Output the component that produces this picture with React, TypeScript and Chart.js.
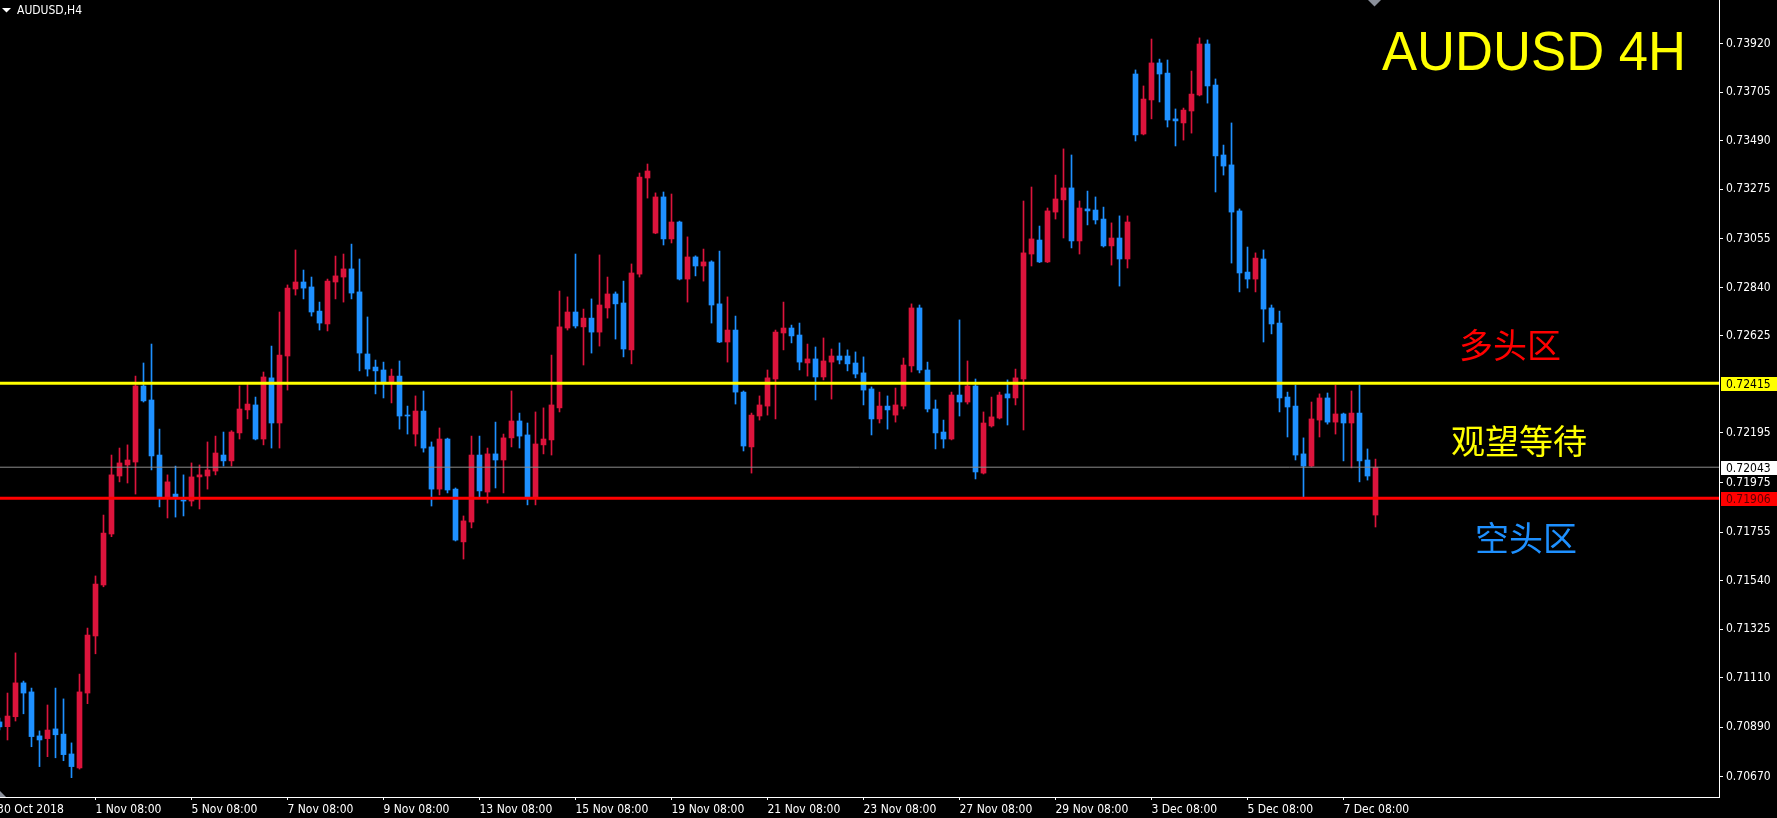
import React, { useEffect, useRef } from 'react';
import { Chart, registerables } from 'chart.js';

Chart.register(...registerables);

// ---- data (AUDUSD H4, bar index -1 .. 171) ----
const firstBar = -1;
const opens = [
  0.70914, 0.70893, 0.70937, 0.71087, 0.71047, 0.70852, 0.70840, 0.70883, 0.70860, 0.70772,
  0.70710, 0.71042, 0.71295, 0.71521, 0.71747, 0.72004, 0.72053, 0.72066, 0.72403, 0.72341,
  0.72097, 0.71907, 0.71924, 0.71898, 0.71893, 0.72000, 0.72004, 0.72026, 0.72097, 0.72071,
  0.72195, 0.72297, 0.72319, 0.72168, 0.72439, 0.72239, 0.72536, 0.72833, 0.72864, 0.72842,
  0.72735, 0.72678, 0.72864, 0.72886, 0.72922, 0.72820, 0.72545, 0.72487, 0.72474, 0.72421,
  0.72447, 0.72274, 0.72190, 0.72292, 0.72133, 0.71946, 0.72168, 0.71946, 0.71712, 0.71800,
  0.72097, 0.71933, 0.72102, 0.72075, 0.72173, 0.72248, 0.72186, 0.71911, 0.72142, 0.72164,
  0.72306, 0.72660, 0.72731, 0.72665, 0.72704, 0.72642, 0.72749, 0.72811, 0.72771, 0.72563,
  0.72899, 0.73325, 0.73081, 0.73241, 0.73055, 0.73130, 0.72877, 0.72975, 0.72935, 0.72953,
  0.72767, 0.72598, 0.72651, 0.72376, 0.72133, 0.72270, 0.72314, 0.72434, 0.72638, 0.72660,
  0.72629, 0.72505, 0.72523, 0.72443, 0.72509, 0.72536, 0.72536, 0.72505, 0.72461, 0.72390,
  0.72257, 0.72314, 0.72274, 0.72314, 0.72492, 0.72749, 0.72474, 0.72301, 0.72199, 0.72168,
  0.72363, 0.72332, 0.72403, 0.72017, 0.72226, 0.72261, 0.72368, 0.72350, 0.72434, 0.72988,
  0.73050, 0.72953, 0.73174, 0.73228, 0.73281, 0.73046, 0.73188, 0.73183, 0.73143, 0.73024,
  0.73059, 0.72966, 0.73786, 0.73520, 0.73671, 0.73835, 0.73790, 0.73587, 0.73569, 0.73622,
  0.73693, 0.73919, 0.73737, 0.73427, 0.73383, 0.73179, 0.72908, 0.72877, 0.72966, 0.72749,
  0.72682, 0.72354, 0.72314, 0.72102, 0.72048, 0.72252, 0.72350, 0.72243, 0.72279, 0.72239,
  0.72283, 0.72075, 0.71831,
];
const highs = [
  0.70931, 0.71042, 0.71220, 0.71095, 0.71064, 0.70874, 0.70989, 0.71064, 0.71016, 0.70821,
  0.71126, 0.71330, 0.71561, 0.71831, 0.72097, 0.72128, 0.72142, 0.72447, 0.72505, 0.72589,
  0.72212, 0.72009, 0.72048, 0.72009, 0.72062, 0.72053, 0.72155, 0.72181, 0.72199, 0.72205,
  0.72403, 0.72412, 0.72354, 0.72465, 0.72580, 0.72731, 0.72851, 0.73006, 0.72917, 0.72886,
  0.72775, 0.72877, 0.72979, 0.72988, 0.73032, 0.72966, 0.72709, 0.72518, 0.72509, 0.72478,
  0.72514, 0.72314, 0.72359, 0.72381, 0.72155, 0.72217, 0.72172, 0.71951, 0.71827, 0.72181,
  0.72181, 0.72128, 0.72243, 0.72190, 0.72381, 0.72283, 0.72239, 0.72288, 0.72306, 0.72540,
  0.72824, 0.72798, 0.72988, 0.72744, 0.72789, 0.72984, 0.72886, 0.72820, 0.72868, 0.72944,
  0.73347, 0.73387, 0.73259, 0.73263, 0.73254, 0.73134, 0.73064, 0.72980, 0.73010, 0.72958,
  0.73001, 0.72798, 0.72713, 0.72381, 0.72283, 0.72359, 0.72474, 0.72651, 0.72775, 0.72673,
  0.72682, 0.72589, 0.72576, 0.72616, 0.72567, 0.72594, 0.72563, 0.72554, 0.72532, 0.72399,
  0.72376, 0.72359, 0.72394, 0.72527, 0.72767, 0.72762, 0.72509, 0.72341, 0.72252, 0.72376,
  0.72696, 0.72514, 0.72434, 0.72288, 0.72354, 0.72376, 0.72430, 0.72478, 0.73223, 0.73285,
  0.73112, 0.73192, 0.73338, 0.73454, 0.73427, 0.73223, 0.73267, 0.73241, 0.73196, 0.73126,
  0.73157, 0.73157, 0.73804, 0.73733, 0.73941, 0.73852, 0.73848, 0.73631, 0.73635, 0.73799,
  0.73946, 0.73937, 0.73764, 0.73471, 0.73569, 0.73188, 0.73019, 0.72993, 0.73006, 0.72762,
  0.72735, 0.72376, 0.72407, 0.72173, 0.72332, 0.72368, 0.72372, 0.72407, 0.72283, 0.72381,
  0.72407, 0.72124, 0.72079,
];
const lows = [
  0.70878, 0.70834, 0.70918, 0.70950, 0.70804, 0.70716, 0.70760, 0.70755, 0.70742, 0.70667,
  0.70705, 0.70995, 0.71216, 0.71513, 0.71735, 0.71978, 0.71973, 0.71924, 0.72332, 0.72031,
  0.71867, 0.71818, 0.71822, 0.71827, 0.71871, 0.71858, 0.71946, 0.72009, 0.72048, 0.72048,
  0.72168, 0.72257, 0.72164, 0.72142, 0.72128, 0.72128, 0.72385, 0.72806, 0.72789, 0.72713,
  0.72651, 0.72647, 0.72789, 0.72775, 0.72789, 0.72470, 0.72447, 0.72368, 0.72350, 0.72328,
  0.72212, 0.72190, 0.72137, 0.72110, 0.71871, 0.71920, 0.71929, 0.71716, 0.71636, 0.71774,
  0.71911, 0.71884, 0.71951, 0.71929, 0.72133, 0.72128, 0.71876, 0.71876, 0.72102, 0.72097,
  0.72288, 0.72651, 0.72660, 0.72496, 0.72549, 0.72580, 0.72704, 0.72611, 0.72532, 0.72501,
  0.72886, 0.73236, 0.73078, 0.73028, 0.73037, 0.72873, 0.72775, 0.72891, 0.72868, 0.72682,
  0.72595, 0.72509, 0.72323, 0.72115, 0.72017, 0.72252, 0.72274, 0.72257, 0.72563, 0.72594,
  0.72474, 0.72447, 0.72341, 0.72430, 0.72345, 0.72501, 0.72470, 0.72439, 0.72319, 0.72186,
  0.72239, 0.72212, 0.72243, 0.72301, 0.72465, 0.72461, 0.72288, 0.72124, 0.72128, 0.72164,
  0.72270, 0.72323, 0.71991, 0.72013, 0.72221, 0.72257, 0.72230, 0.72319, 0.72208, 0.72935,
  0.72950, 0.72950, 0.73143, 0.73059, 0.73015, 0.72988, 0.73117, 0.73121, 0.73019, 0.72939,
  0.72846, 0.72926, 0.73489, 0.73516, 0.73587, 0.73662, 0.73551, 0.73467, 0.73493, 0.73524,
  0.73689, 0.73657, 0.73263, 0.73338, 0.72948, 0.72820, 0.72837, 0.72820, 0.72598, 0.72634,
  0.72288, 0.72177, 0.72075, 0.71911, 0.72044, 0.72177, 0.72234, 0.72190, 0.72071, 0.72040,
  0.71978, 0.71986, 0.71778,
];
const closes = [
  0.70892, 0.70940, 0.71087, 0.71042, 0.70849, 0.70834, 0.70878, 0.70857, 0.70769, 0.70716,
  0.71047, 0.71299, 0.71525, 0.71751, 0.72009, 0.72062, 0.72075, 0.72403, 0.72337, 0.72093,
  0.71907, 0.71978, 0.71911, 0.71893, 0.72000, 0.72009, 0.72031, 0.72106, 0.72071, 0.72199,
  0.72301, 0.72323, 0.72168, 0.72443, 0.72239, 0.72540, 0.72837, 0.72864, 0.72837, 0.72731,
  0.72682, 0.72868, 0.72891, 0.72922, 0.72815, 0.72549, 0.72478, 0.72470, 0.72421, 0.72447,
  0.72270, 0.72270, 0.72292, 0.72128, 0.71946, 0.72168, 0.71942, 0.71720, 0.71805, 0.72097,
  0.71938, 0.72102, 0.72075, 0.72173, 0.72248, 0.72181, 0.71911, 0.72146, 0.72168, 0.72319,
  0.72665, 0.72731, 0.72669, 0.72704, 0.72642, 0.72762, 0.72811, 0.72767, 0.72567, 0.72904,
  0.73329, 0.73356, 0.73241, 0.73055, 0.73130, 0.72877, 0.72975, 0.72935, 0.72953, 0.72762,
  0.72598, 0.72651, 0.72376, 0.72137, 0.72274, 0.72319, 0.72439, 0.72642, 0.72660, 0.72625,
  0.72509, 0.72523, 0.72443, 0.72514, 0.72536, 0.72518, 0.72501, 0.72456, 0.72385, 0.72257,
  0.72314, 0.72297, 0.72319, 0.72496, 0.72749, 0.72474, 0.72301, 0.72195, 0.72168, 0.72363,
  0.72332, 0.72403, 0.72022, 0.72239, 0.72266, 0.72363, 0.72350, 0.72439, 0.72993, 0.73055,
  0.72953, 0.73179, 0.73232, 0.73281, 0.73046, 0.73192, 0.73179, 0.73139, 0.73024, 0.73059,
  0.72966, 0.73130, 0.73516, 0.73675, 0.73835, 0.73786, 0.73582, 0.73578, 0.73626, 0.73697,
  0.73919, 0.73733, 0.73423, 0.73378, 0.73174, 0.72904, 0.72877, 0.72970, 0.72744, 0.72678,
  0.72350, 0.72310, 0.72097, 0.72048, 0.72257, 0.72350, 0.72243, 0.72279, 0.72239, 0.72283,
  0.72071, 0.72004, 0.72043,
];

const dateLabels = [
  '30 Oct 2018', '1 Nov 08:00', '5 Nov 08:00', '7 Nov 08:00', '9 Nov 08:00', '13 Nov 08:00',
  '15 Nov 08:00', '19 Nov 08:00', '21 Nov 08:00', '23 Nov 08:00', '27 Nov 08:00',
  '29 Nov 08:00', '3 Dec 08:00', '5 Dec 08:00', '7 Dec 08:00',
];
const dateLabelBars = [-1.3, 11, 23, 35, 47, 59, 71, 83, 95, 107, 119, 131, 143, 155, 167];

const priceTicks = [
  0.7392, 0.73705, 0.7349, 0.73275, 0.73055, 0.7284, 0.72625, 0.72195, 0.71975,
  0.71755, 0.7154, 0.71325, 0.7111, 0.7089, 0.7067,
];

const levelValues = [0.72415, 0.72043, 0.71906];
const levelLineColors = ['#FFFF00', '#8C8C8C', '#FF0000'];
const levelLineWidths = [3, 1, 3];
const levelBoxColors = ['#FFFF00', '#FFFFFF', '#FF0000'];
const levelTextColors = ['#000000', '#000000', '#5A0000'];

const zoneLabels = ['多头区', '观望等待', '空头区'];
const zoneColors = ['#FF0000', '#FFFF00', '#1E90FF'];

const symbolTitle = 'AUDUSD,H4';
const bigTitle = 'AUDUSD 4H';

const BULL = '#DC143C';
const BEAR = '#1E90FF';
const AXIS_FAMILY = "'DejaVu Sans Condensed', 'DejaVu Sans', sans-serif";

const xMin = -0.9375;
const xMax = 213.9375;
const yMin = 0.705812;
const yMax = 0.74114;

const overlayPlugin = {
  id: 'overlay',
  afterDraw(chart: any) {
    const { ctx, scales } = chart;
    const ys = scales.y;
    ctx.save();
    // price labels of horizontal levels
    ctx.font = `12px ${AXIS_FAMILY}`;
    ctx.textAlign = 'left';
    ctx.textBaseline = 'middle';
    for (let i = 0; i < levelValues.length; i++) {
      const py = ys.getPixelForValue(levelValues[i]);
      const top = Math.round(py - 6.5);
      ctx.fillStyle = levelBoxColors[i];
      ctx.fillRect(ys.left + 2, top, chart.width - ys.left - 2, 14);
      ctx.fillStyle = levelTextColors[i];
      ctx.fillText(levelValues[i].toFixed(5), ys.left + 7, top + 7.5);
    }
    // symbol caption with triangle
    ctx.fillStyle = '#FFFFFF';
    ctx.beginPath();
    ctx.moveTo(2, 8);
    ctx.lineTo(11, 8);
    ctx.lineTo(6.5, 12.5);
    ctx.closePath();
    ctx.fill();
    ctx.font = `12px ${AXIS_FAMILY}`;
    ctx.textBaseline = 'alphabetic';
    ctx.fillText(symbolTitle, 17, 14);
    // shift marker (top) and corner marker
    ctx.fillStyle = '#8A8F9A';
    ctx.beginPath();
    ctx.moveTo(1368, 0);
    ctx.lineTo(1381, 0);
    ctx.lineTo(1374.5, 6.5);
    ctx.closePath();
    ctx.fill();
    ctx.beginPath();
    ctx.moveTo(0, 791);
    ctx.lineTo(0, 797);
    ctx.lineTo(6, 797);
    ctx.closePath();
    ctx.fill();
    // big title
    ctx.fillStyle = '#FFFF00';
    ctx.font = "55px 'Liberation Sans', Arial, sans-serif";
    const w = ctx.measureText(bigTitle).width;
    ctx.save();
    ctx.translate(1382, 70);
    ctx.scale(304 / w, 1);
    ctx.fillText(bigTitle, 0, 0);
    ctx.restore();
    // zone labels
    const zonePos = [
      [1510, 345],
      [1519, 441],
      [1526, 538],
    ];
    ctx.font = "34px 'Noto Sans CJK SC', sans-serif";
    ctx.textAlign = 'center';
    ctx.textBaseline = 'middle';
    for (let i = 0; i < zoneLabels.length; i++) {
      ctx.fillStyle = zoneColors[i];
      ctx.fillText(zoneLabels[i], zonePos[i][0], zonePos[i][1]);
    }
    ctx.restore();
  },
};

export default function App() {
  const canvasRef = useRef<HTMLCanvasElement | null>(null);

  useEffect(() => {
    document.body.style.margin = '0';
    document.body.style.background = '#000';
    const canvas = canvasRef.current;
    if (!canvas) return;

    const bodies = opens.map((o, i) => ({ x: firstBar + i, y: [o, closes[i]] }));
    const wicks = lows.map((l, i) => ({ x: firstBar + i, y: [l, highs[i]] }));
    const colors = opens.map((o, i) => (closes[i] >= o ? BULL : BEAR));

    const levelSets = levelValues.map((v, i) => ({
      type: 'line' as const,
      data: [
        { x: xMin, y: v },
        { x: xMax, y: v },
      ],
      borderColor: levelLineColors[i],
      borderWidth: levelLineWidths[i],
      pointRadius: 0,
      fill: false,
      tension: 0,
    }));

    const zeroPad = (s: any) => {
      s.paddingLeft = 0;
      s.paddingRight = 0;
      s.paddingTop = 0;
      s.paddingBottom = 0;
    };

    const chart = new Chart(canvas, {
      type: 'bar',
      data: {
        datasets: [
          ...levelSets,
          {
            type: 'bar',
            data: bodies as any,
            backgroundColor: colors,
            borderWidth: 0,
            barThickness: 5,
            minBarLength: 1,
            grouped: false,
          } as any,
          {
            type: 'bar',
            data: wicks as any,
            backgroundColor: colors,
            borderWidth: 0,
            barThickness: 1,
            grouped: false,
          } as any,
        ],
      },
      options: {
        animation: false,
        responsive: false,
        maintainAspectRatio: false,
        devicePixelRatio: 1,
        layout: { padding: 0, autoPadding: false },
        plugins: {
          legend: { display: false },
          tooltip: { enabled: false },
        },
        scales: {
          x: {
            type: 'linear',
            offset: false,
            min: xMin,
            max: xMax,
            bounds: 'data',
            afterBuildTicks: (s: any) => {
              s.ticks = dateLabelBars.map((v) => ({ value: v }));
            },
            afterFit: (s: any) => {
              s.height = 21;
              zeroPad(s);
            },
            ticks: {
              autoSkip: false,
              maxRotation: 0,
              minRotation: 0,
              align: 'start',
              color: '#FFFFFF',
              padding: 3,
              font: { family: AXIS_FAMILY, size: 12 },
              callback: (_v: any, i: number) => dateLabels[i],
            },
            grid: {
              offset: false,
              drawOnChartArea: false,
              drawTicks: true,
              tickLength: 3,
              color: '#FFFFFF',
            },
            border: { display: true, color: '#FFFFFF', width: 1 },
          },
          y: {
            type: 'linear',
            position: 'right',
            min: yMin,
            max: yMax,
            bounds: 'data',
            afterBuildTicks: (s: any) => {
              s.ticks = priceTicks.map((v) => ({ value: v }));
            },
            afterFit: (s: any) => {
              s.width = 58;
              zeroPad(s);
            },
            ticks: {
              autoSkip: false,
              color: '#FFFFFF',
              padding: 3,
              font: { family: AXIS_FAMILY, size: 12 },
              callback: (v: any) => Number(v).toFixed(5),
            },
            grid: {
              drawOnChartArea: false,
              drawTicks: true,
              tickLength: 4,
              color: '#FFFFFF',
            },
            border: { display: true, color: '#FFFFFF', width: 1 },
          },
        },
      } as any,
      plugins: [overlayPlugin],
    });

    return () => chart.destroy();
  }, []);

  return (
    <div
      style={{
        position: 'absolute',
        left: 0,
        top: 0,
        width: 1777,
        height: 818,
        background: '#000',
      }}
    >
      <canvas ref={canvasRef} width={1777} height={818} style={{ display: 'block' }} />
    </div>
  );
}
